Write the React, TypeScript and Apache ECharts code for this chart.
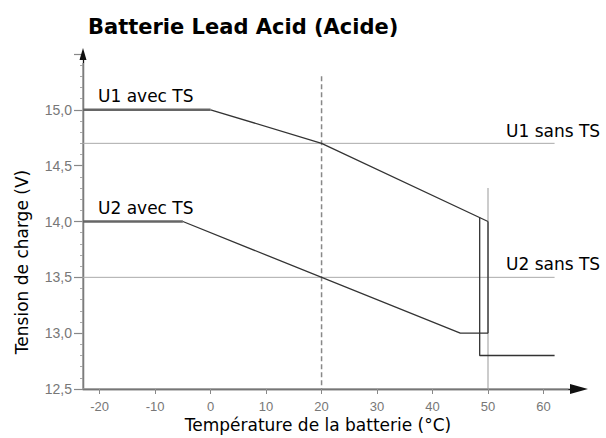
import React, { useEffect, useRef } from "react";
import * as echarts from "echarts";

const xTicks = [-20, -10, 0, 10, 20, 30, 40, 50, 60];
const xMin = -23;
const xMax = 66.4;
const yMin = 12.5;
const yMax = 15.5;
const u1Flat = [[-23, 15.0], [0, 15.0]];
const u1Slope = [[0, 15.0], [20, 14.7], [50, 14.0]];
const u2Flat = [[-23, 14.0], [-5, 14.0]];
const u2Slope = [[-5, 14.0], [45, 13.0], [50, 13.0]];
const cutoff = [[48.5, 14.035], [48.5, 12.8], [62, 12.8]];
const end50 = [[50, 14.0], [50, 13.0]];
const u1Sans = [[-23, 14.7], [62, 14.7]];
const u2Sans = [[-23, 13.5], [62, 13.5]];
const grid50 = [[50, 14.3], [50, 12.5]];
const ref20 = [[20, 15.3], [20, 12.5]];
const xAxisLine = [[xMin, yMin], [64.5, yMin]];
const yAxisLine = [[xMin, yMin], [xMin, 15.42]];

const FONT = "DejaVu Sans";

export default function App() {
  const ref = useRef<HTMLDivElement>(null);
  useEffect(() => {
    const chart = echarts.init(ref.current!, null, { renderer: "svg" });
    const line = (data: number[][], color: string, width: number, type: any = "solid") => ({
      type: "line",
      data,
      symbol: "none",
      clip: false,
      lineStyle: { color, width, type },
      silent: true,
    });
    chart.setOption({
      animation: false,
      backgroundColor: "#fff",
      grid: { left: 83, right: 27, top: 54, bottom: 49 },
      xAxis: {
        type: "value",
        min: xMin,
        max: xMax,
        splitLine: { show: false },
        axisLine: { onZero: false, lineStyle: { color: "#111", width: 1.3 }, symbol: ["none", "triangle"], symbolSize: [10, 18] },
        axisTick: { customValues: xTicks, length: 5, lineStyle: { color: "#888" } },
        axisLabel: { customValues: xTicks, color: "#777", fontFamily: "Liberation Sans", fontSize: 13, margin: 11 },
      },
      yAxis: {
        type: "value",
        min: yMin,
        max: yMax,
        interval: 0.5,
        splitLine: { show: false },
        axisLine: { onZero: false, lineStyle: { color: "#111", width: 1.3 }, symbol: ["none", "triangle"], symbolSize: [7, 12] },
        axisTick: { length: 9, lineStyle: { color: "#888", width: 1.2 } },
        minorTick: { show: true, splitNumber: 5, length: 3, lineStyle: { color: "#aaa" } },
        axisLabel: {
          color: "#777",
          fontFamily: "Liberation Sans",
          fontSize: 14,
          margin: 11,
          formatter: (v: number) => (v > 15.01 ? "" : v.toFixed(1).replace(".", ",")),
        },
      },
      series: [
        line(xAxisLine, "#999", 1.6),
        line(yAxisLine, "#999", 1.6),
        line(u1Sans, "#aaa", 1),
        line(u2Sans, "#aaa", 1),
        line(grid50, "#999", 1),
        line(ref20, "#888", 1.5, [5, 3]),
        line(u1Flat, "#666", 2.5),
        line(u2Flat, "#666", 2.5),
        line(u1Slope, "#333", 1.3),
        line(u2Slope, "#333", 1.3),
        line(cutoff, "#333", 1.3),
        line(end50, "#333", 1.3),
      ],
      graphic: [
        { type: "text", left: 88, top: 16, style: { text: "Batterie Lead Acid (Acide)", font: `bold 21px ${FONT}`, fill: "#000" } },
        { type: "text", x: 98, y: 96, style: { text: "U1 avec TS", font: `17px ${FONT}`, fill: "#000", verticalAlign: "middle" } },
        { type: "text", x: 98, y: 208, style: { text: "U2 avec TS", font: `17px ${FONT}`, fill: "#000", verticalAlign: "middle" } },
        { type: "text", x: 506, y: 131, style: { text: "U1 sans TS", font: `17px ${FONT}`, fill: "#000", verticalAlign: "middle" } },
        { type: "text", x: 506, y: 264, style: { text: "U2 sans TS", font: `17px ${FONT}`, fill: "#000", verticalAlign: "middle" } },
        { type: "text", x: 318, y: 425, style: { text: "Température de la batterie (°C)", font: `17px ${FONT}`, fill: "#000", align: "center", verticalAlign: "middle" } },
        { type: "text", x: 22, y: 262, rotation: Math.PI / 2, style: { text: "Tension de charge (V)", font: `17px ${FONT}`, fill: "#000", align: "center", verticalAlign: "middle" } },
      ],
    });
    return () => chart.dispose();
  }, []);
  return <div ref={ref} style={{ position: "fixed", left: 0, top: 0, width: 606, height: 438 }} />;
}
